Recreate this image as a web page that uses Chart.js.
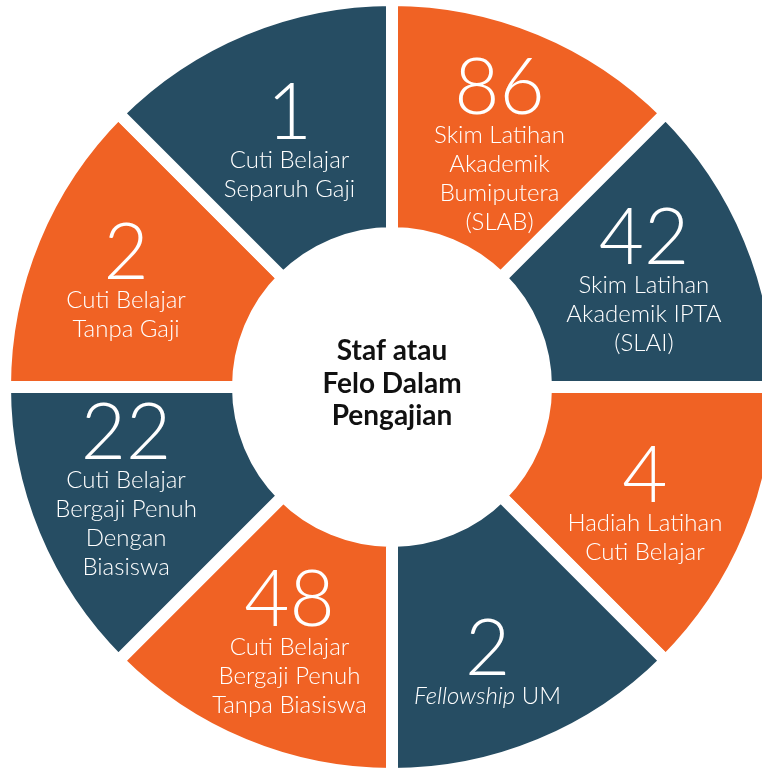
<!DOCTYPE html>
<html>
<head>
<meta charset="utf-8">
<script src="https://cdn.jsdelivr.net/npm/chart.js@4/dist/chart.umd.min.js"></script>
<style>
  html, body { margin: 0; padding: 0; background: #fff; overflow: hidden; width: 762px; height: 768px; }
  #wrap { position: absolute; left: -1px; top: -6px; width: 786px; height: 786px; }
</style>
</head>
<body>
<div id="wrap"><canvas id="ring" width="786" height="786"></canvas></div>
<script>
// wedges go clockwise from 12 o'clock, all the same size
var counts = [86, 42, 4, 2, 48, 22, 2, 1];
var descriptions = [
  ['Skim Latihan', 'Akademik', 'Bumiputera', '(SLAB)'],
  ['Skim Latihan', 'Akademik IPTA', '(SLAI)'],
  ['Hadiah Latihan', 'Cuti Belajar'],
  ['*Fellowship* UM'],
  ['Cuti Belajar', 'Bergaji Penuh', 'Tanpa Biasiswa'],
  ['Cuti Belajar', 'Bergaji Penuh', 'Dengan', 'Biasiswa'],
  ['Cuti Belajar', 'Tanpa Gaji'],
  ['Cuti Belajar', 'Separuh Gaji']
];
var wedgeSizes = [1, 1, 1, 1, 1, 1, 1, 1];
var centerTitle = ['Staf atau', 'Felo Dalam', 'Pengajian'];

var ORANGE = '#F06224';
var BLUE = '#264D63';
var wedgeColors = counts.map(function (c, i) { return i % 2 === 0 ? ORANGE : BLUE; });

// small hand nudges so each text block sits like the original
var nudge = [[4, 7], [2, -4], [3, 12], [-8, 25], [1, 5], [-16, -2], [-16, -3], [1, 3]];

var NUM_FONT = '300 78px Lato';
var TXT_FONT = '300 24px Lato';
var LINE_H = 29;
var NUM_H = 56;

function drawMixedLine(ctx, line, x, y) {
  // parts between * are italic
  var parts = line.split('*');
  var fonts = parts.map(function (p, i) { return (i % 2 === 1 ? 'italic ' : '') + TXT_FONT; });
  var total = 0, widths = [];
  parts.forEach(function (p, i) {
    ctx.font = fonts[i];
    var w = ctx.measureText(p).width;
    widths.push(w);
    total += w;
  });
  var cx = x - total / 2;
  ctx.textAlign = 'left';
  parts.forEach(function (p, i) {
    ctx.font = fonts[i];
    ctx.fillText(p, cx, y);
    cx += widths[i];
  });
}

var ringLabels = {
  id: 'ringLabels',
  afterDatasetsDraw: function (chart) {
    var ctx = chart.ctx;
    var meta = chart.getDatasetMeta(0);
    ctx.save();
    ctx.fillStyle = '#fff';
    ctx.textBaseline = 'alphabetic';
    meta.data.forEach(function (arc, i) {
      var p = arc.getCenterPoint();
      var n = descriptions[i].length;
      var x = p.x + nudge[i][0];
      var base = p.y + nudge[i][1] - (LINE_H * n - NUM_H) / 2;
      ctx.font = NUM_FONT;
      ctx.textAlign = 'center';
      ctx.fillText(String(counts[i]), x, base);
      descriptions[i].forEach(function (line, j) {
        drawMixedLine(ctx, line, x, base + LINE_H * (j + 1));
      });
    });

    // centre title
    var ca = chart.chartArea;
    var cx = (ca.left + ca.right) / 2;
    var cy = (ca.top + ca.bottom) / 2;
    ctx.fillStyle = '#111';
    ctx.font = 'bold 28px Lato';
    ctx.textAlign = 'center';
    centerTitle.forEach(function (line, j) {
      ctx.fillText(line, cx, cy - 27 + j * 32.5);
    });
    ctx.restore();
  }
};

new Chart(document.getElementById('ring'), {
  type: 'doughnut',
  data: {
    labels: counts.map(String),
    datasets: [{
      data: wedgeSizes,
      backgroundColor: wedgeColors,
      borderColor: '#fff',
      borderWidth: 12
    }]
  },
  options: {
    responsive: false,
    devicePixelRatio: 1,
    animation: false,
    events: [],
    cutout: 154,
    layout: { padding: 0 },
    plugins: {
      legend: { display: false },
      tooltip: { enabled: false }
    }
  },
  plugins: [ringLabels]
});
</script>
</body>
</html>
